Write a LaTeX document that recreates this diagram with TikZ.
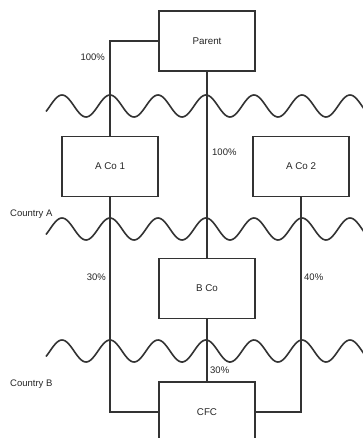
\documentclass[tikz,border=0pt]{standalone}
\usepackage{fontspec}
\setmainfont{Liberation Sans}
\begin{document}
\begin{tikzpicture}[x=1pt, y=-1pt,
    company/.style={draw=black!80, line width=1.2pt, minimum width=96pt, minimum height=60pt, font=\fontsize{9.8}{11}\selectfont, text=black!85},
    link/.style={draw=black!80, line width=1.2pt},
    border/.style={draw=black!80, line width=1.6pt, line join=round},
    share/.style={font=\fontsize{9.5}{11}\selectfont, text=black!85, inner sep=1pt}]
    \clip (0,0) rectangle (363,438);
    \fill[white] (0,0) rectangle (363,438);

    % Gesellschaften
    \node[company] (parent) at (207, 41) {Parent};
    \node[company] (aco1) at (110, 166.5) {A Co 1};
    \node[company] (aco2) at (301, 166.5) {A Co 2};
    \node[company] (bco) at (207, 288.5) {B Co};
    \node[company] (cfc) at (207, 412) {CFC};

    % Grenzen
    \foreach \c in {106, 229, 351}
        \draw[border] plot[domain=46:366, samples=240] (\x, {\c - 11*cos(7.5*(\x-62))});

    % Beteiligungen
    \draw[link] (parent.west) -| (aco1.north);
    \draw[link] (parent.south) -- (bco.north);
    \draw[link] (aco1.south) |- (cfc.west);
    \draw[link] (aco2.south) |- (cfc.east);
    \draw[link] (bco.south) -- (cfc.north);

    \node[share, anchor=east] (p1) at (106, 57) {100\%};
    \node[share, anchor=west] (p2) at (211, 152) {100\%};
    \node[share, anchor=east] (p3) at (107, 277) {30\%};
    \node[share, anchor=west] (p4) at (303, 277) {40\%};
    \node[share, anchor=west] (p5) at (209, 370) {30\%};

    % Laender
    \node[share, anchor=west] (ca) at (9, 214) {Country A};
    \node[share, anchor=west] (cb) at (9, 384) {Country B};
\end{tikzpicture}
\end{document}
